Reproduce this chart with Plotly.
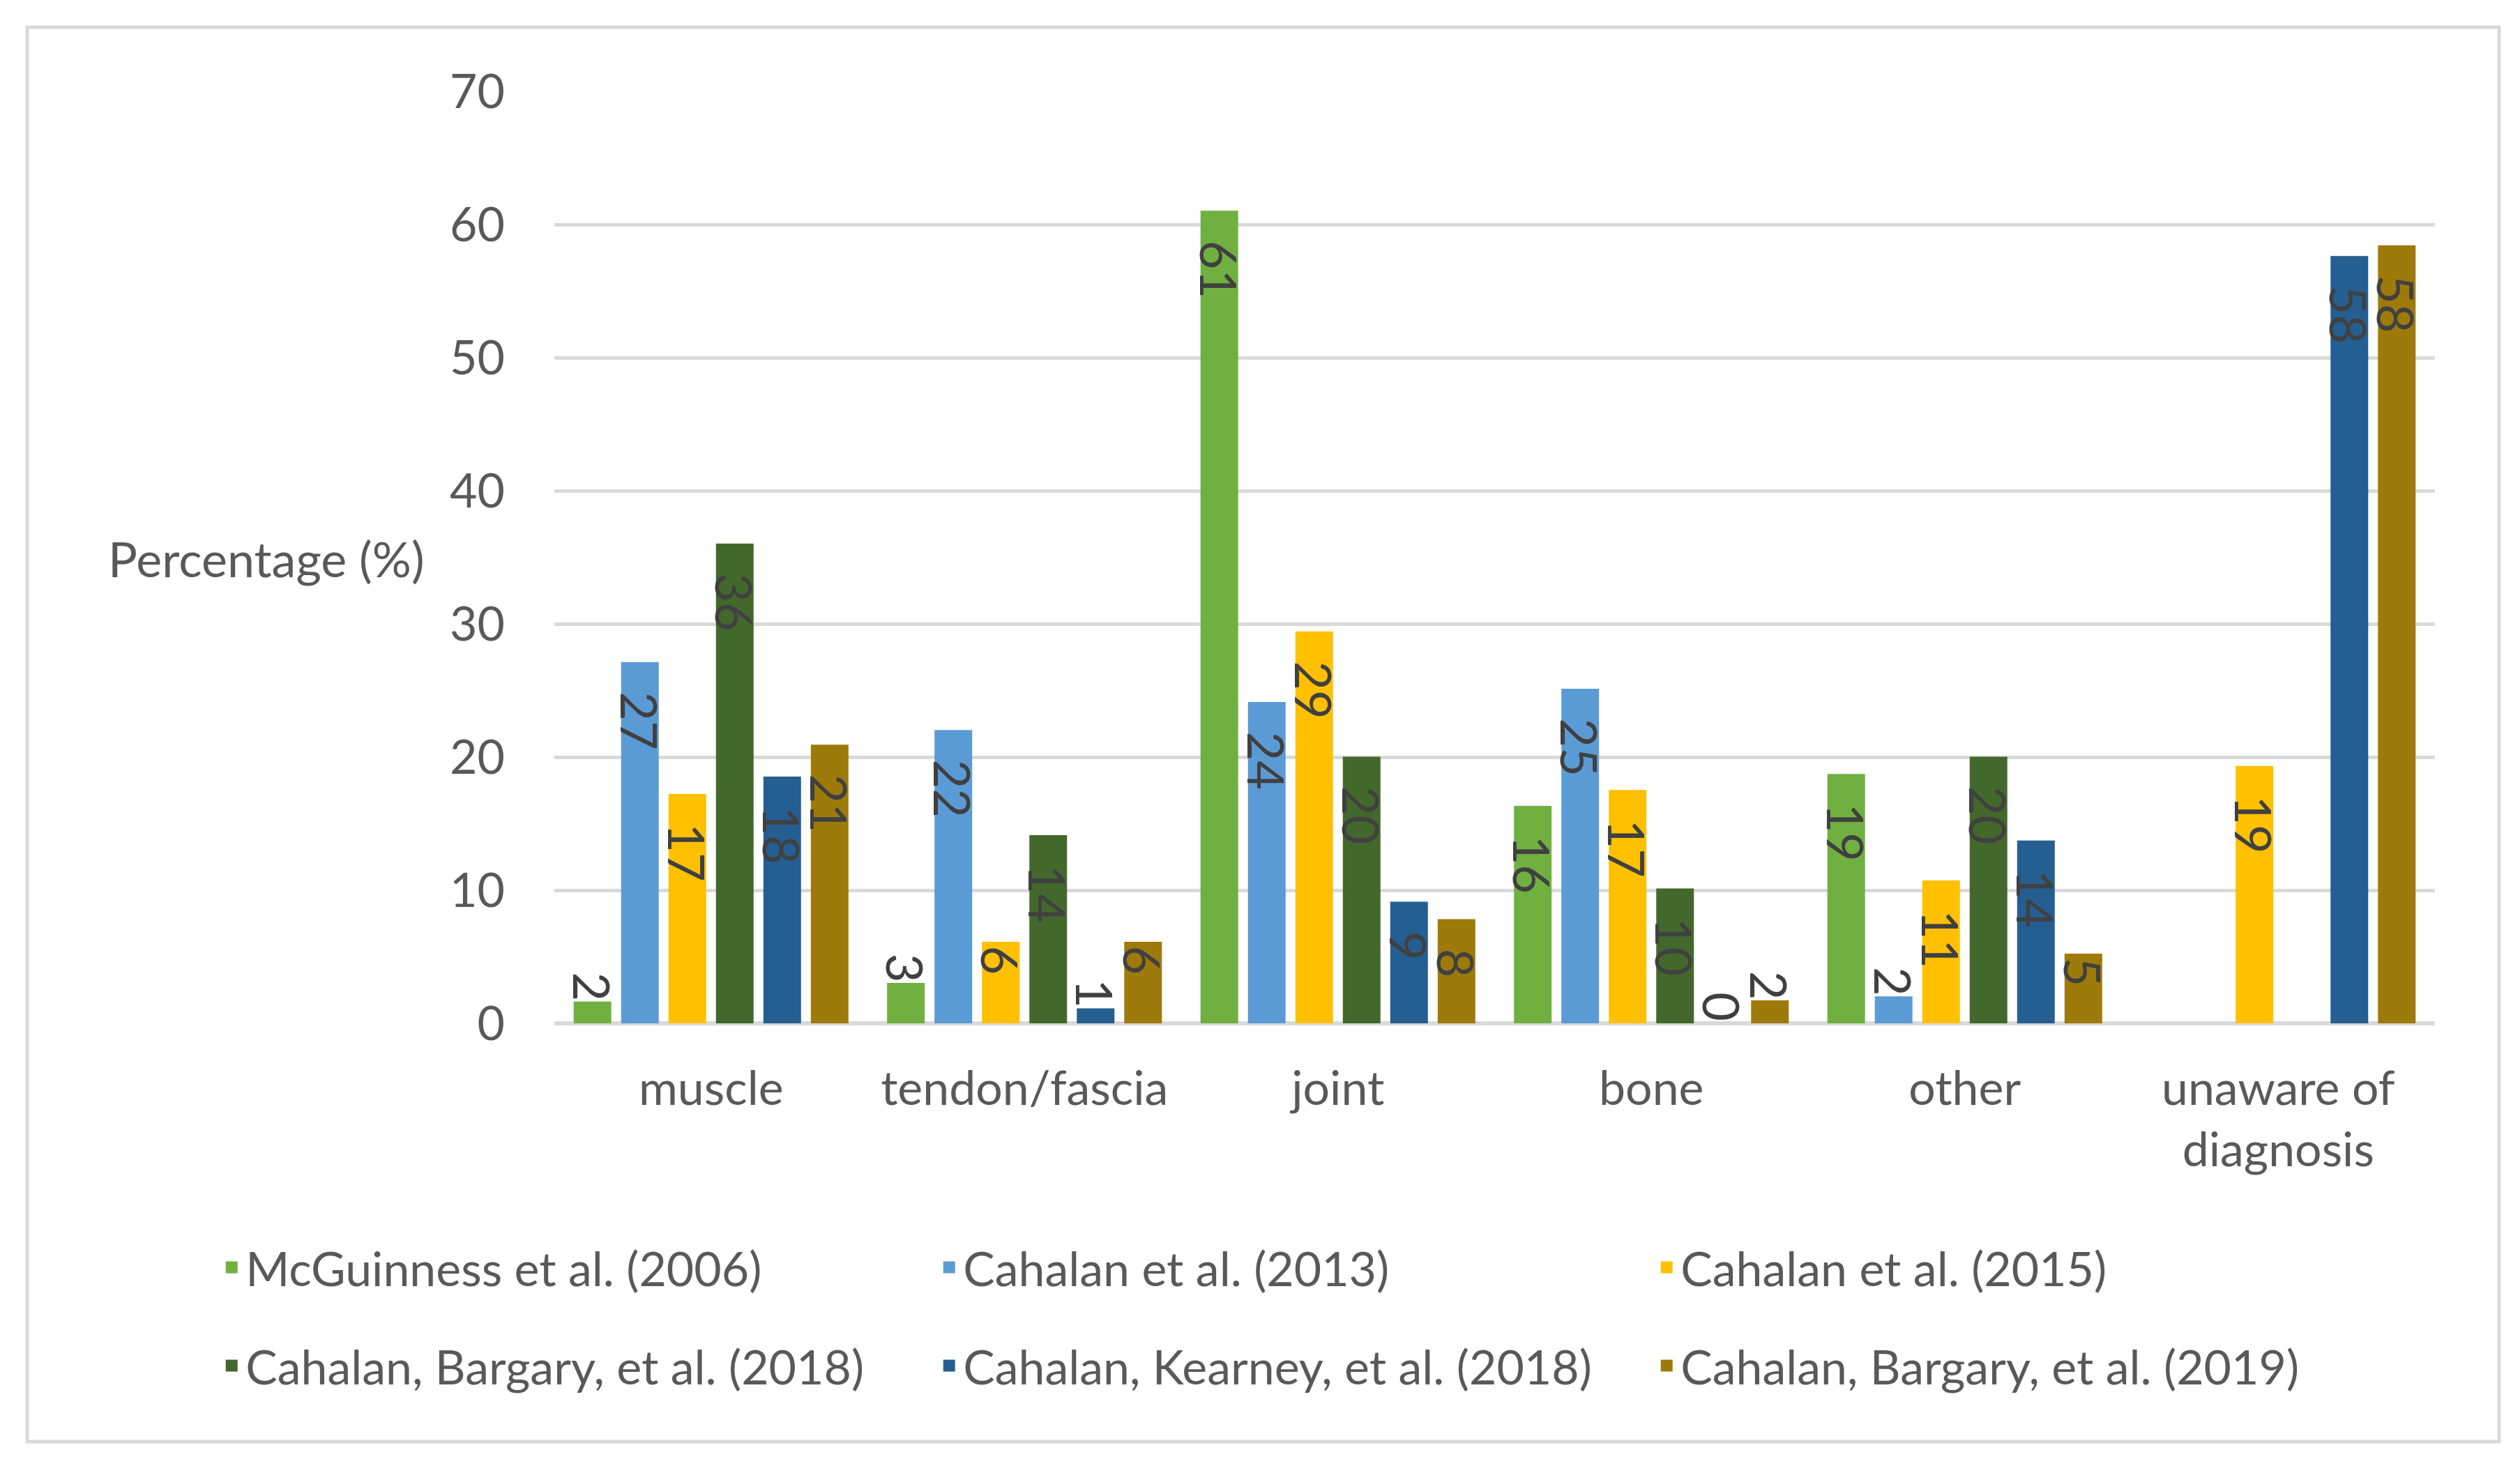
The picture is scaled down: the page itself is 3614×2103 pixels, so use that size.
import plotly.graph_objects as go

categories = ["muscle", "tendon/fascia", "joint", "bone", "other", "unaware of<br>diagnosis"]
series_names = [
    "McGuinness et al. (2006)",
    "Cahalan et al. (2013)",
    "Cahalan et al. (2015)",
    "Cahalan, Bargary, et al. (2018)",
    "Cahalan, Kearney, et al. (2018)",
    "Cahalan, Bargary, et al. (2019)",
]
mcguinness_2006 = [1.5, 2.9, 60.9, 16.2, 18.6, None]
cahalan_2013 = [27.0, 21.9, 24.0, 25.0, 1.9, None]
cahalan_2015 = [17.1, 6.0, 29.3, 17.4, 10.6, 19.2]
bargary_2018 = [35.9, 14.0, 19.9, 10.0, 19.9, None]
kearney_2018 = [18.4, 1.0, 9.0, 0.0, 13.6, 57.5]
bargary_2019 = [20.8, 6.0, 7.7, 1.6, 5.1, 58.3]

series_values = [mcguinness_2006, cahalan_2013, cahalan_2015, bargary_2018, kearney_2018, bargary_2019]
colors = ["#70B040", "#5B9BD5", "#FFC000", "#43682B", "#255E91", "#9E7A0A"]

FONT = "Lato"
FS = 68
LFS = 72
NB = "\u00a0"


def label_template(v):
    if v is None or v < 4:
        return "%{y:.0f}"
    if v < 7:
        return "%{y:.0f}"
    return NB * 2 + "%{y:.0f}"


fig = go.Figure()
for i, (name, vals, col) in enumerate(zip(series_names, series_values, colors)):
    pos = ["outside" if (v is not None and v < 4) else "inside" for v in vals]
    tmpl = [label_template(v) for v in vals]
    lw = [0 if (v is None or v == 0) else 5 for v in vals]
    fig.add_trace(go.Bar(
        x=categories, y=vals, name=name,
        marker=dict(color=col, line=dict(width=lw, color=col)),
        texttemplate=tmpl,
        textposition=pos,
        insidetextanchor="end",
        textangle=90,
        constraintext="none",
        cliponaxis=False,
        textfont=dict(family=FONT, size=LFS, color="#404040"),
        insidetextfont=dict(family=FONT, size=LFS, color="#404040"),
        outsidetextfont=dict(family=FONT, size=LFS, color="#404040"),
        legend="legend" if i < 3 else "legend2",
    ))

legend_common = dict(
    orientation="h",
    font=dict(family=FONT, size=FS, color="#595959"),
    entrywidth=984,
    entrywidthmode="pixels",
    itemwidth=30,
    xanchor="left",
    yanchor="middle",
    bgcolor="rgba(0,0,0,0)",
    traceorder="normal",
)

fig.update_layout(
    width=3614, height=2103,
    margin=dict(l=787, r=130, t=123, b=643),
    paper_bgcolor="white", plot_bgcolor="white",
    barmode="group", bargap=0.092, bargroupgap=0.28,
    font=dict(family=FONT, size=FS, color="#595959"),
    legend=dict(x=-0.179, y=-0.262, **legend_common),
    legend2=dict(x=-0.179, y=-0.3675, **legend_common),
    xaxis=dict(
        showgrid=False, showline=False, zeroline=False,
        tickfont=dict(family=FONT, size=FS, color="#595959"),
        ticks="", ticklabelstandoff=48,
    ),
    yaxis=dict(
        range=[0, 70], dtick=10, tick0=0,
        showgrid=True, gridcolor="#D9D9D9", gridwidth=5,
        zeroline=True, zerolinecolor="#D9D9D9", zerolinewidth=6,
        showline=False, ticks="",
        tickfont=dict(family=FONT, size=FS, color="#595959"),
        ticklabelstandoff=70,
    ),
    annotations=[dict(
        text="Percentage (%)", xref="paper", yref="paper",
        x=-0.238, y=0.499, xanchor="left", yanchor="middle",
        showarrow=False, font=dict(family=FONT, size=70, color="#595959"),
    )],
    shapes=[dict(
        type="rect", xref="paper", yref="paper",
        x0=-0.2803, x1=1.0341, y0=-0.4488, y1=1.0688,
        line=dict(color="#D9D9D9", width=5), fillcolor="rgba(0,0,0,0)",
        layer="below",
    )],
)

fig.write_html("out.html")
